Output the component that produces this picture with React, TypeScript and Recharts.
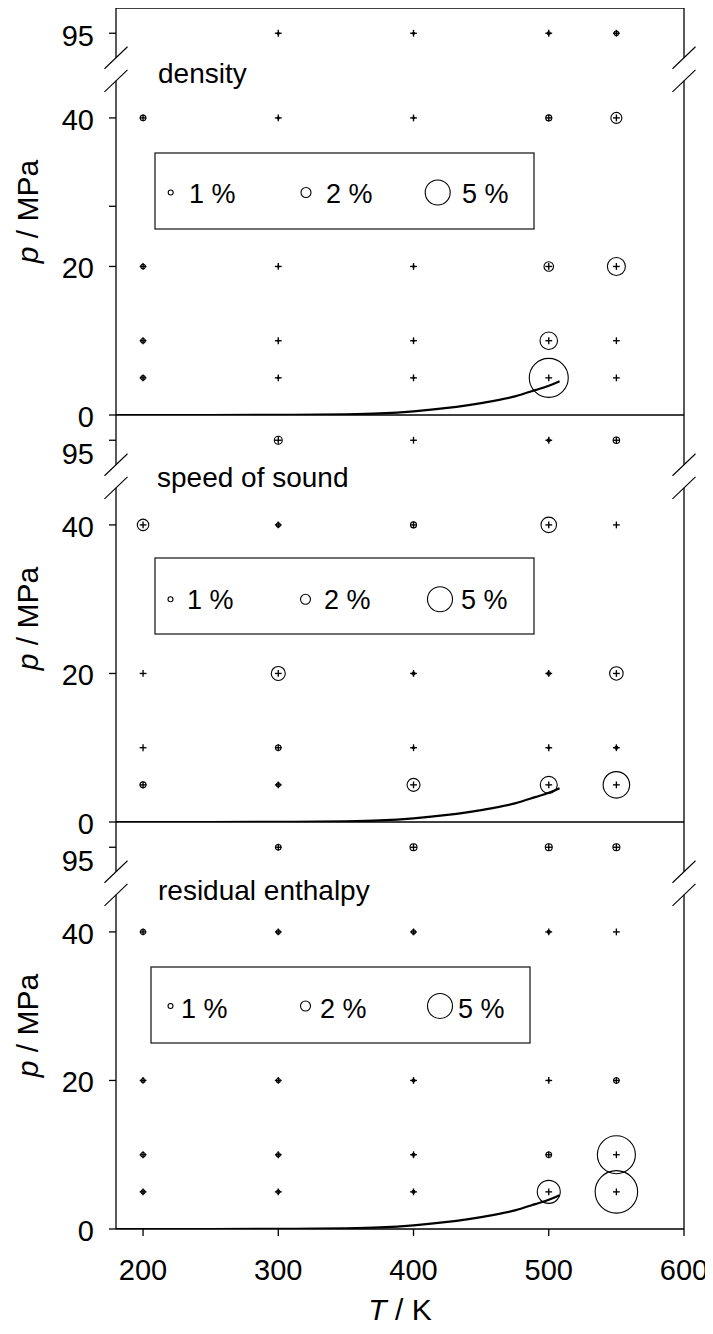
import React from 'react';
import { ComposedChart, Scatter, Line, XAxis, YAxis, ReferenceLine } from 'recharts';

const FONT = '"Liberation Sans", Arial, Helvetica, sans-serif';

// state points of the comparison grid
const temperatures = [200, 300, 400, 500, 550];
const pressures = [5, 10, 20, 40, 95];

// relative deviations in %, one row per pressure (5, 10, 20, 40, 95 MPa),
// one column per temperature (200, 300, 400, 500, 550 K); null = no point
const densityDev = [
  [0.9, 0.3, 0.3, 7.8, 0.1],
  [0.9, 0.3, 0.3, 3.5, 0.1],
  [0.9, 0.3, 0.3, 1.9, 3.6],
  [1.1, 0.4, 0.3, 1.2, 2.2],
  [null, 0.4, 0.4, 0.6, 0.9],
];
const soundDev = [
  [1.2, 0.8, 2.6, 3.4, 5.3],
  [0.2, 1.1, 0.4, 0.4, 0.6],
  [0.1, 2.8, 0.6, 0.7, 2.7],
  [2.3, 0.8, 1.2, 3.1, 0.1],
  [null, 1.6, 0.2, 0.6, 1.3],
];
const enthalpyDev = [
  [0.8, 0.7, 0.6, 4.6, 8.5],
  [0.9, 0.8, 0.6, 1.1, 7.6],
  [0.8, 0.8, 0.6, 0.3, 1.1],
  [1.0, 0.8, 0.8, 0.6, 0.1],
  [null, 1.1, 1.4, 1.4, 1.4],
];

// reference sizes shown in the legend box
const legendDev = [1, 2, 5];

// vapour pressure curve, T / K and p / MPa
const vaporT = [180, 250, 300, 330, 350, 375, 400, 425, 450, 475, 490, 500, 508];
const vaporP = [0, 0.002, 0.01, 0.04, 0.09, 0.22, 0.5, 0.95, 1.6, 2.5, 3.35, 3.95, 4.55];

const tTicks = [200, 300, 400, 500, 600];
const T_MIN = 180;
const T_MAX = 600;

// p axis is broken: the 95 MPa row is drawn just above the break
const P_TOP = 54.8;
const P_95_POS = 51.4;
const BREAK_LO = 45.0;
const BREAK_HI = 48.1;

const PANEL_H = 407;
const MARGIN_TOP = 30;
const AXIS_W = 116;
const RIGHT = 29;
const CHART_W = 713;

const radius = (dev: number) => 2.5 * dev;

const rowPos = (p: number) => (p === 95 ? P_95_POS : p);

const buildPoints = (dev: (number | null)[][]) =>
  pressures
    .flatMap((p, i) => temperatures.map((T, j) => ({ T, p, y: rowPos(p), dev: dev[i][j] })))
    .filter((d) => d.dev !== null);

const vaporCurve = vaporT.map((T, i) => ({ T, p: vaporP[i] }));

const DevMarker = (props: any) => {
  const { cx, cy, payload } = props;
  const r = radius(payload.dev);
  return (
    <g>
      {r > 0.6 && <circle cx={cx} cy={cy} r={r} fill="none" stroke="#000" strokeWidth={1.1} />}
      <line x1={cx - 3.4} x2={cx + 3.4} y1={cy} y2={cy} stroke="#000" strokeWidth={1.35} />
      <line x1={cx} x2={cx} y1={cy - 3.4} y2={cy + 3.4} stroke="#000" strokeWidth={1.35} />
    </g>
  );
};

const makePTick = (dy95: number) => (props: any) => {
  const { x, y, payload } = props;
  const v = payload.value;
  if (v !== 0 && v !== 20 && v !== 40 && v !== P_95_POS) return <g />;
  const label = v === P_95_POS ? '95' : String(v);
  return (
    <text x={x} y={y + (v === P_95_POS ? dy95 : 1.5)} dy="0.355em" textAnchor="end" fontSize={29} fontFamily={FONT} fill="#000">
      {label}
    </text>
  );
};

const TTick = (props: any) => {
  const { x, y, payload } = props;
  return (
    <text x={x} y={y} dy="0.71em" textAnchor="middle" fontSize={29} fontFamily={FONT} fill="#000">
      {payload.value}
    </text>
  );
};

const PLabel = () => {
  const cy = MARGIN_TOP + PANEL_H / 2;
  return (
    <text x={38} y={cy} transform={`rotate(-90, 38, ${cy})`} textAnchor="middle" fontSize={30} fontFamily={FONT} fill="#000">
      <tspan fontStyle="italic">p</tspan> / MPa
    </text>
  );
};

const TLabel = () => (
  <text x={AXIS_W + (CHART_W - AXIS_W - RIGHT) / 2} y={528} textAnchor="middle" fontSize={30} fontFamily={FONT} fill="#000">
    <tspan fontStyle="italic">T</tspan> / K
  </text>
);

const panels = [
  {
    key: 'density', title: 'density', dev: densityDev, top: 8, titleX: 158, titleY: 75, dy95: 2.5,
    pTicks: [0, 20, 28.1, 40, P_95_POS], bottomAxis: false,
    legend: { x: 155, y: 145, cy: 184.5, cx: [170.7, 306, 437.7], tx: [189, 326, 462], ty: 195 },
  },
  {
    key: 'sound', title: 'speed of sound', dev: soundDev, top: 415, titleX: 157, titleY: 72, dy95: 13,
    pTicks: [0, 20, 40, P_95_POS], bottomAxis: false,
    legend: { x: 155, y: 143, cy: 184.3, cx: [170.5, 305.5, 440], tx: [187, 324, 461], ty: 194 },
  },
  {
    key: 'enthalpy', title: 'residual enthalpy', dev: enthalpyDev, top: 822, titleX: 158, titleY: 78, dy95: 13,
    pTicks: [0, 20, 40, P_95_POS], bottomAxis: true,
    legend: { x: 151, y: 145, cy: 184, cx: [170.5, 305.5, 440], tx: [181, 320, 458], ty: 196 },
  },
];

const frame = { stroke: '#000', strokeWidth: 1.3 };

// slash pairs marking the axis break on both vertical frame lines
const breakSlashes = [T_MIN, T_MAX].flatMap((x) =>
  [BREAK_LO, BREAK_HI].map((b) => [
    { x: x - 8.5, y: b - 1.48 },
    { x: x + 8.5, y: b + 1.48 },
  ])
);

const frameSegments = [T_MIN, T_MAX].flatMap((x) => [
  [{ x, y: 0 }, { x, y: BREAK_LO }],
  [{ x, y: BREAK_HI }, { x, y: P_TOP }],
]);

const Panel = ({ cfg, first }: { cfg: (typeof panels)[number]; first: boolean }) => {
  const bottom = cfg.bottomAxis ? 0 : 24;
  const height = MARGIN_TOP + PANEL_H + (cfg.bottomAxis ? 100 : bottom);
  const points = buildPoints(cfg.dev);
  const lg = cfg.legend;
  return (
    <>
      <div style={{ position: 'absolute', left: 0, top: cfg.top - MARGIN_TOP }}>
        <ComposedChart width={CHART_W} height={height} margin={{ top: MARGIN_TOP, right: RIGHT, left: 0, bottom }}>
          <XAxis
            type="number"
            dataKey="T"
            domain={[T_MIN, T_MAX]}
            ticks={tTicks}
            interval={0}
            hide={!cfg.bottomAxis}
            height={100}
            tickSize={7}
            tickMargin={23}
            tick={<TTick />}
            axisLine={frame}
            tickLine={frame}
            label={<TLabel />}
          />
          <YAxis
            type="number"
            domain={[0, P_TOP]}
            allowDataOverflow
            ticks={cfg.pTicks}
            interval={0}
            width={AXIS_W}
            tickSize={7}
            tickMargin={15}
            axisLine={false}
            tickLine={frame}
            tick={makePTick(cfg.dy95)}
            label={<PLabel />}
          />
          {frameSegments.map((s, i) => (
            <ReferenceLine key={`f${i}`} segment={s} ifOverflow="visible" {...frame} />
          ))}
          {breakSlashes.map((s, i) => (
            <ReferenceLine key={`b${i}`} segment={s} ifOverflow="visible" stroke="#000" strokeWidth={1.1} />
          ))}
          {first && <ReferenceLine y={P_TOP} ifOverflow="visible" {...frame} />}
          {!cfg.bottomAxis && <ReferenceLine y={0} ifOverflow="visible" {...frame} />}
          <Line
            data={vaporCurve}
            dataKey="p"
            type="monotone"
            dot={false}
            activeDot={false}
            stroke="#000"
            strokeWidth={2.2}
            isAnimationActive={false}
          />
          <Scatter data={points} dataKey="y" shape={<DevMarker />} isAnimationActive={false} />
        </ComposedChart>
      </div>
      <svg
        width={CHART_W}
        height={PANEL_H}
        style={{ position: 'absolute', left: 0, top: cfg.top, overflow: 'visible', pointerEvents: 'none' }}
      >
        <text x={cfg.titleX} y={cfg.titleY} fontSize={28} fontFamily={FONT} fill="#000">
          {cfg.title}
        </text>
        <rect x={lg.x} y={lg.y} width={379} height={76} fill="#fff" stroke="#222" strokeWidth={1.3} />
        {legendDev.map((d, i) => (
          <g key={d}>
            <circle cx={lg.cx[i]} cy={lg.cy} r={radius(d)} fill="none" stroke="#000" strokeWidth={1.1} />
            <text x={lg.tx[i]} y={lg.ty} fontSize={27} fontFamily={FONT} fill="#000">
              {`${d} %`}
            </text>
          </g>
        ))}
      </svg>
    </>
  );
}

export default function App() {
  return (
    <div style={{ position: 'relative', width: CHART_W, height: 1334, margin: -8, background: '#fff', fontFamily: FONT }}>
      {panels.map((cfg, i) => (
        <Panel key={cfg.key} cfg={cfg} first={i === 0} />
      ))}
    </div>
  );
}
